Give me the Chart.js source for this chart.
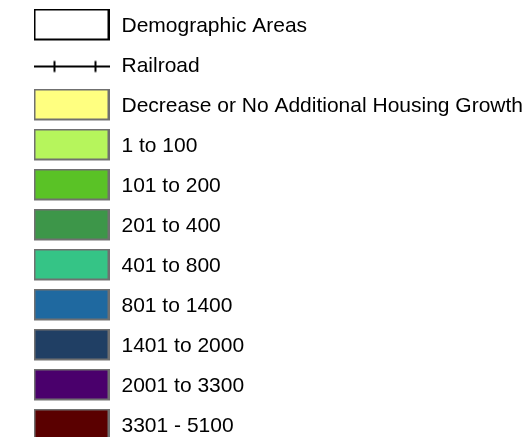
<!DOCTYPE html>
<html>
<head>
<meta charset="utf-8">
<title>Housing Growth Legend</title>
<script src="https://cdn.jsdelivr.net/npm/chart.js@4.4.1/dist/chart.umd.min.js"></script>
<style>
  html, body { margin: 0; padding: 0; background: #fff; overflow: hidden; }
  #wrap { position: absolute; left: 0; top: -3px; width: 530px; height: 480px; }
</style>
</head>
<body>
<div id="wrap"><canvas id="legend-chart"></canvas></div>
<script>
// map overlays shown at the top of the legend
const overlayLabels = ['Demographic Areas', 'Railroad'];

// housing growth classes, top to bottom
const growthClasses = [
    'Decrease or No Additional Housing Growth',
    '1 to 100',
    '101 to 200',
    '201 to 400',
    '401 to 800',
    '801 to 1400',
    '1401 to 2000',
    '2001 to 3300',
    '3301 - 5100'
];
const growthColors = [
    '#ffff80', '#b6f55c', '#5ac226', '#3d9649', '#35c486',
    '#1f69a0', '#203f64', '#4a006c', '#5a0000'
];

// small canvases used as legend symbols (box sits 2px above the text middle)
function makeBox(fill, stroke) {
    const c = document.createElement('canvas');
    c.width = 76;
    c.height = 36;
    const ctx = c.getContext('2d');
    ctx.fillStyle = fill;
    ctx.fillRect(1, 1, 74, 30);
    ctx.strokeStyle = stroke;
    ctx.lineWidth = 2;
    ctx.strokeRect(1, 1, 74, 30);
    return c;
}

function makeRail() {
    const c = document.createElement('canvas');
    c.width = 76;
    c.height = 36;
    const ctx = c.getContext('2d');
    ctx.strokeStyle = '#000';
    ctx.lineWidth = 2;
    ctx.beginPath();
    ctx.moveTo(0, 18);
    ctx.lineTo(76, 18);
    ctx.moveTo(21, 12.5);
    ctx.lineTo(21, 23.5);
    ctx.moveTo(62, 12.5);
    ctx.lineTo(62, 23.5);
    ctx.stroke();
    return c;
}

const symbols = [makeBox('#ffffff', '#000000'), makeRail()]
    .concat(growthColors.map(col => makeBox(col, '#707070')));
const allLabels = overlayLabels.concat(growthClasses);

const ctx = document.getElementById('legend-chart').getContext('2d');
new Chart(ctx, {
    type: 'bar',
    data: {
        labels: [],
        datasets: allLabels.map((label, i) => ({
            label: label,
            data: [],
            backgroundColor: i < 2 ? '#ffffff' : growthColors[i - 2]
        }))
    },
    options: {
        responsive: true,
        maintainAspectRatio: false,
        animation: false,
        layout: { padding: { left: 13 } },
        scales: {
            x: { display: false },
            y: { display: false }
        },
        plugins: {
            tooltip: { enabled: false },
            legend: {
                position: 'left',
                align: 'start',
                maxWidth: 520,
                onClick: null,
                labels: {
                    usePointStyle: true,
                    pointStyleWidth: 79,
                    padding: 19,
                    color: '#111',
                    font: { family: "'Liberation Sans', Arial, sans-serif", size: 21 },
                    generateLabels: chart => allLabels.map((label, i) => ({
                        text: label,
                        pointStyle: symbols[i],
                        fillStyle: '#fff',
                        strokeStyle: '#fff',
                        lineWidth: 0,
                        hidden: false,
                        datasetIndex: i
                    }))
                }
            }
        }
    }
});
</script>
</body>
</html>
